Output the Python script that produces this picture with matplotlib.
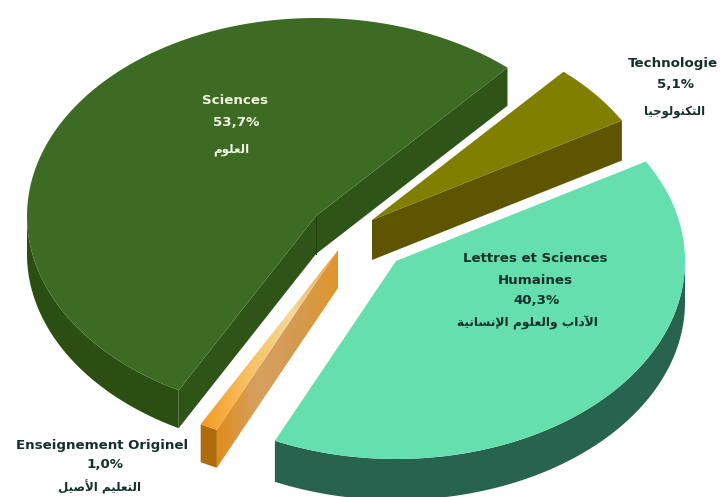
import numpy as np
import matplotlib
matplotlib.use('Agg')
import matplotlib.pyplot as plt
from matplotlib.patches import Polygon

# parts in %, in drawing order (counter clockwise from start_angle)
categories = ['Sciences', 'Enseignement Originel', 'Lettres et Sciences Humaines', 'Technologie']
values = [53.7, 1.0, 40.3, 5.1]
value_labels = ['53,7%', '1,0%', '40,3%', '5,1%']
# arabic is written in visual order with presentation forms, matplotlib has no shaping
arabic_labels = ['ﻡﻮﻠﻌﻟﺍ', 'ﻞﻴﺻﻷﺍ ﻢﻴﻠﻌﺘﻟﺍ', 'ﺔﻴﻧﺎﺴﻧﻹﺍ ﻡﻮﻠﻌﻟﺍﻭ ﺏﺍﺩﻵﺍ', 'ﺎﻴﺟﻮﻟﻮﻨﻜﺘﻟﺍ']

start_angle = 48.5
rx, ry = 289, 198
depths = [38, 38, 41, 40]
apexes = [(316, 216), (338, 250), (396, 261), (372, 220)]
top_colors = ['#3e6b24', '#f0a030', '#66dfae', '#807f00']
rim_colors = ['#2b4e13', '#b06c0c', '#27634f', '#5f5400']
cut_colors = ['#2f5418', '#d9932e', '#27634f', '#5f5400']
# which cut faces can be seen: (start edge, end edge)
visible_cuts = [(True, True), (False, True), (False, False), (True, False)]


def rim(apex, t0, t1):
    t = np.radians(np.linspace(t0, t1, 200))
    return np.column_stack([apex[0] + rx * np.cos(t), apex[1] - ry * np.sin(t)])


def gradient(ax, poly, stops):
    # horizontal colour ramp clipped to the polygon
    x0, y0 = poly.min(axis=0)
    x1, y1 = poly.max(axis=0)
    cmap = matplotlib.colors.LinearSegmentedColormap.from_list('g', stops)
    im = ax.imshow(np.linspace(0, 1, 256)[None, :], cmap=cmap, aspect='auto',
                   extent=[x0, x1, y1, y0], zorder=2)
    patch = Polygon(poly, closed=True, transform=ax.transData, fc='none', ec='none')
    ax.add_patch(patch)
    im.set_clip_path(patch)


fig = plt.figure(figsize=(7.23, 4.97), dpi=100)
ax = fig.add_axes([0, 0, 1, 1])

shares = np.array(values) / sum(values) * 360
edges = start_angle + np.concatenate([[0], np.cumsum(shares)])

for i in range(len(values)):
    apex = np.array(apexes[i], dtype=float)
    t0, t1 = edges[i], edges[i + 1]
    arc = rim(apex, t0, t1)
    down = np.array([0, depths[i]])

    # rim, only the part that faces the viewer (180-360 deg)
    for k in (0, 360):
        a = max(t0, 180 + k)
        b = min(t1, 360 + k)
        if b > a:
            front = rim(apex, a, b)
            ax.add_patch(Polygon(np.vstack([front, (front + down)[::-1]]), fc=rim_colors[i], ec='none', zorder=2))

    # cut faces
    for end, visible in zip((arc[0], arc[-1]), visible_cuts[i]):
        if visible:
            face = np.array([apex, end, end + down, apex + down])
            if i == 1:
                gradient(ax, face, ['#e08c1c', '#d6a060', '#d49a50', '#e0962a'])
            else:
                ax.add_patch(Polygon(face, fc=cut_colors[i], ec='none', zorder=2))

    top = np.vstack([apex, arc])
    if i == 1:
        gradient(ax, top, ['#f59a22', '#f7c062', '#f5d898', '#e8a040'])
    else:
        ax.add_patch(Polygon(top, fc=top_colors[i], ec='none', zorder=3))

# vertical crease on the Sciences wedge
ax.plot([apexes[0][0]] * 2, [apexes[0][1], apexes[0][1] + depths[0]], color='#24420f', lw=0.8, zorder=4)

ax.set_xlim(0, 723)
ax.set_ylim(497, 0)
ax.axis('off')

dark = '#14302a'
light = '#eef6e2'


def lab(x, y, s, color=dark, size=9.6):
    ax.text(x, y, s, ha='center', va='center', fontsize=size, fontweight='bold',
            color=color, family='DejaVu Sans', zorder=6)


lab(235, 100, categories[0], light)
lab(236, 122, value_labels[0], light)
lab(231, 149, arabic_labels[0], light, 8.6)

lab(102, 445, categories[1])
lab(105, 465, value_labels[1])
lab(100, 487, arabic_labels[1], size=8.6)

lab(535, 258, 'Lettres et Sciences')
lab(535, 280, 'Humaines')
lab(537, 300, value_labels[2])
lab(527, 323, arabic_labels[2], size=8.8)

lab(673, 63, categories[3])
lab(675, 84, value_labels[3])
lab(675, 112, arabic_labels[3], size=8.4)

fig.savefig('out.png', dpi=100)
